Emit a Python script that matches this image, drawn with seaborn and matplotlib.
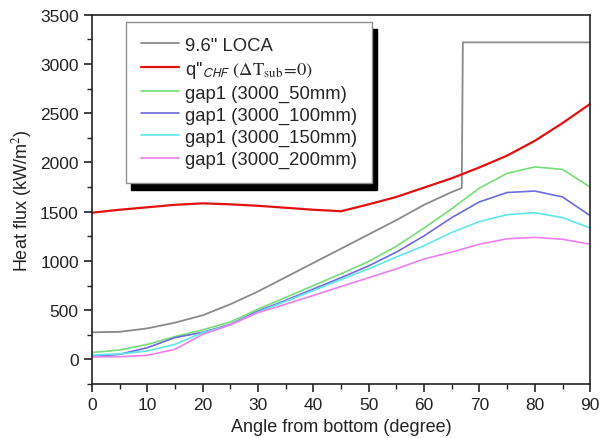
import matplotlib
matplotlib.use("Agg")
import matplotlib.pyplot as plt
import seaborn as sns
import numpy as np
from matplotlib.ticker import MultipleLocator

sns.set_style("ticks")
plt.rcParams['font.family'] = ['Liberation Sans', 'DejaVu Sans']
plt.rcParams['mathtext.fontset'] = 'stix'

# ---- data ----
angle = [0, 5, 10, 15, 20, 25, 30, 35, 40, 45, 50, 55, 60, 65, 70, 75, 80, 85, 90]

loca_angle = [0, 5, 10, 15, 20, 25, 30, 35, 40, 45, 50, 55, 60, 65, 66.8, 67.0, 90]
loca_flux = [275, 280, 315, 373, 448, 560, 690, 835, 980, 1125, 1270, 1415, 1570, 1700, 1740, 3220, 3220]

chf_flux = [1490, 1520, 1545, 1570, 1585, 1575, 1560, 1540, 1520, 1505, 1575, 1650, 1745, 1840, 1950, 2070, 2220, 2400, 2595]
gap_50 = [70, 95, 152, 231, 300, 380, 510, 630, 750, 870, 995, 1150, 1335, 1530, 1740, 1890, 1955, 1930, 1750]
gap_100 = [30, 51, 119, 221, 275, 356, 491, 600, 715, 830, 950, 1090, 1255, 1440, 1600, 1695, 1710, 1650, 1460]
gap_150 = [45, 55, 85, 153, 271, 350, 480, 590, 700, 810, 920, 1040, 1155, 1290, 1400, 1470, 1490, 1440, 1335]
gap_200 = [25, 27, 41, 102, 254, 350, 475, 560, 650, 740, 830, 920, 1020, 1090, 1170, 1225, 1240, 1220, 1170]

labels = ['9.6" LOCA',
          r"q''$_{\mathsf{CHF}}$ $(\Delta\mathrm{T}_{\mathrm{sub}}\!=\!0)$",
          "gap1 (3000_50mm)", "gap1 (3000_100mm)",
          "gap1 (3000_150mm)", "gap1 (3000_200mm)"]
colors = ["#8a8a8a", "#e31010", "#77dd77", "#6b6bdf", "#5fe8e8", "#ee80ee"]

fig = plt.figure(figsize=(6.01, 4.39), dpi=100)
ax = fig.add_axes([0.153, 0.123, 0.829, 0.841])

sns.lineplot(x=loca_angle, y=loca_flux, ax=ax, color=colors[0], lw=1.3,
             sort=False, estimator=None, label=labels[0])
sns.lineplot(x=angle, y=chf_flux, ax=ax, color=colors[1], lw=1.6, label=labels[1])
for ser, c, lab in zip([gap_50, gap_100, gap_150, gap_200], colors[2:], labels[2:]):
    sns.lineplot(x=angle, y=ser, ax=ax, color=c, lw=1.2, label=lab)

ax.set_xlim(0, 90)
ax.set_ylim(-250, 3500)
ax.xaxis.set_major_locator(MultipleLocator(10))
ax.xaxis.set_minor_locator(MultipleLocator(5))
ax.yaxis.set_major_locator(MultipleLocator(500))
ax.yaxis.set_minor_locator(MultipleLocator(250))
ax.tick_params(which='major', direction='out', length=6, width=1.2, labelsize=12.5, colors='#222222')
ax.tick_params(which='minor', direction='out', length=3.5, width=1.0, colors='#222222')
ax.tick_params(top=False, right=False)
for s in ax.spines.values():
    s.set_visible(True)
    s.set_linewidth(1.2)
    s.set_color('#222222')

ax.set_xlabel("Angle from bottom (degree)", fontsize=13, color='#222222')
ax.set_ylabel("Heat flux (kW/m$^2$)", fontsize=13, color='#222222')

leg = ax.legend(loc='upper left', bbox_to_anchor=(0.068, 0.981), fontsize=13.3,
                frameon=True, fancybox=False, handlelength=2.1, handletextpad=0.3,
                labelspacing=0.27, borderpad=0.8, borderaxespad=0,
                shadow={'color': 'black', 'alpha': 1.0, 'ox': 4.0, 'oy': -5.0})
leg.get_frame().set_edgecolor('#909090')
leg.get_frame().set_linewidth(1.0)
leg.get_frame().set_alpha(1.0)

fig.savefig("out.png", dpi=100)
